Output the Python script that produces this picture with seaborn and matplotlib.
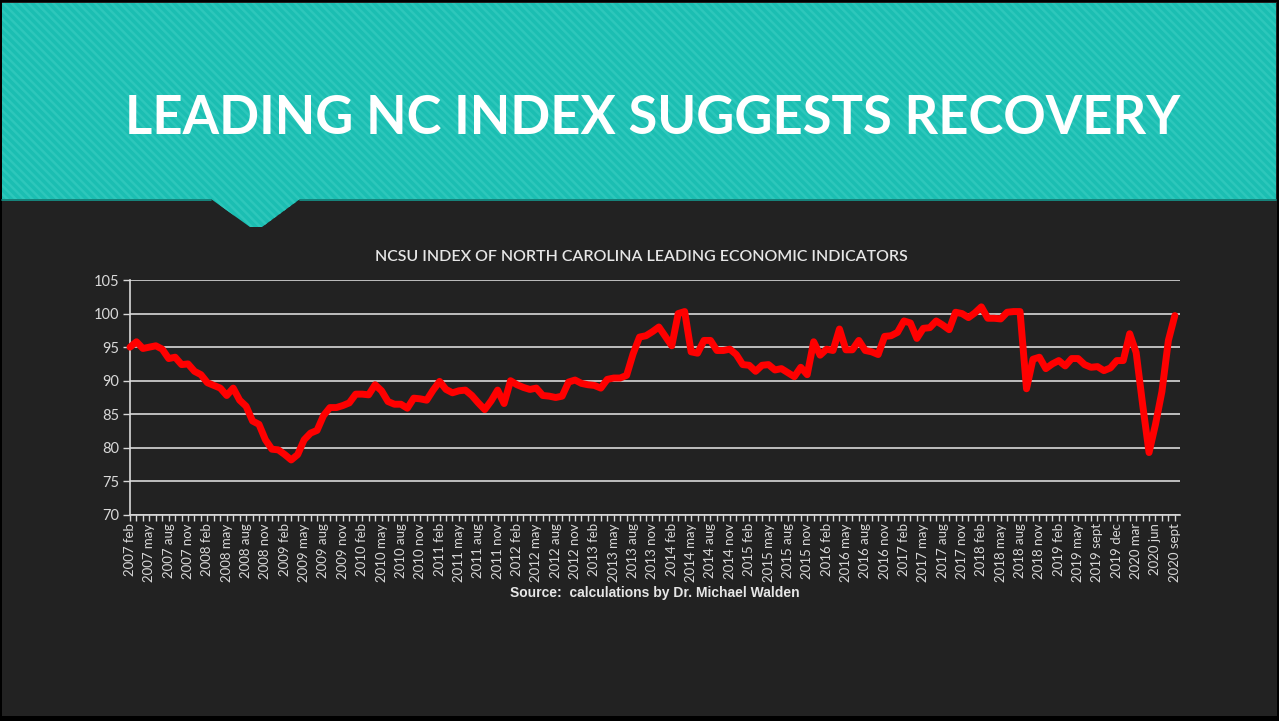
import matplotlib
matplotlib.use('Agg')
import matplotlib.pyplot as plt
import seaborn as sns
import pandas as pd
from matplotlib.patches import Polygon, Rectangle

# Тексты слайда
TITLE = 'LEADING NC INDEX SUGGESTS RECOVERY'
CHART_TITLE = 'NCSU INDEX OF NORTH CAROLINA LEADING ECONOMIC INDICATORS'
SOURCE = 'Source:  calculations by Dr. Michael Walden'

# Категории: месяцы с 2007 feb по 2020 sept (2019 aug в ряду нет)
YEARS = list(range(2007, 2021))
MONTH_NAMES = ['jan', 'feb', 'mar', 'apr', 'may', 'jun',
               'jul', 'aug', 'sept', 'oct', 'nov', 'dec']
FIRST_PERIOD = '2007 feb'
LAST_PERIOD = '2020 sept'
MISSING_PERIODS = ['2019 aug']

# Значения индекса (по месяцам)
INDEX_VALUES = [
    95.0, 95.8, 94.8, 95.0, 95.2, 94.7, 93.3, 93.5, 92.4, 92.5,
    91.4, 90.9, 89.7, 89.3, 88.9, 87.8, 88.9, 87.1, 86.2, 84.0,
    83.5, 81.2, 79.8, 79.7, 79.0, 78.2, 79.0, 81.2, 82.2, 82.6,
    84.8, 86.0, 86.0, 86.3, 86.7, 88.0, 88.0, 87.9, 89.4, 88.5,
    86.9, 86.5, 86.5, 85.9, 87.4, 87.3, 87.1, 88.6, 89.9, 88.7,
    88.2, 88.5, 88.6, 87.8, 86.7, 85.7, 87.0, 88.6, 86.6, 90.0,
    89.4, 89.0, 88.7, 88.9, 87.8, 87.7, 87.5, 87.7, 89.8, 90.1,
    89.6, 89.4, 89.3, 88.9, 90.2, 90.4, 90.4, 90.8, 94.0, 96.5,
    96.7, 97.3, 98.0, 96.6, 95.2, 100.0, 100.3, 94.3, 94.1, 96.0,
    96.0, 94.5, 94.5, 94.7, 93.9, 92.4, 92.3, 91.4, 92.3, 92.4,
    91.6, 91.8, 91.2, 90.6, 92.0, 90.9, 95.8, 93.8, 94.7, 94.5,
    97.7, 94.6, 94.6, 96.0, 94.5, 94.3, 93.9, 96.6, 96.7, 97.2,
    98.9, 98.6, 96.3, 97.8, 97.9, 98.9, 98.3, 97.6, 100.2, 100.0,
    99.4, 100.1, 101.0, 99.3, 99.3, 99.2, 100.2, 100.3, 100.3, 88.8,
    93.2, 93.5, 91.8, 92.5, 93.0, 92.2, 93.3, 93.3, 92.4, 92.0,
    92.1, 91.5, 91.9, 93.0, 93.0, 97.0, 94.2, 86.5, 79.3, 83.5,
    88.4, 96.0, 99.7,
]
Y_TICKS = [70, 75, 80, 85, 90, 95, 100, 105]

# Цвета
BG = '#222222'
TEAL = '#1BBEB2'
TEAL_STRIPE = '#2DC7BB'
LINE_RED = '#FF0000'
GRID = '#D9D9D9'
TEXT = '#E6E6E6'

W, H = 1279, 721


def build_periods():
    periods = [f'{y} {m}' for y in YEARS for m in MONTH_NAMES]
    periods = periods[periods.index(FIRST_PERIOD):periods.index(LAST_PERIOD) + 1]
    return [p for p in periods if p not in MISSING_PERIODS]


periods = build_periods()
df = pd.DataFrame({'period': periods, 'value': INDEX_VALUES})
df['pos'] = df.index

sns.set_style('dark', {'axes.facecolor': BG, 'figure.facecolor': '#000000'})
plt.rcParams['font.family'] = ['Lato', 'DejaVu Sans']
plt.rcParams['hatch.linewidth'] = 1.8

fig = plt.figure(figsize=(W / 100, H / 100), dpi=100)

# Фон слайда: тёмная область и бирюзовая шапка с "язычком"
bg = fig.add_axes([0, 0, 1, 1], zorder=-10)
bg.set_xlim(0, W)
bg.set_ylim(H, 0)
bg.axis('off')
bg.add_patch(Rectangle((2, 2), W - 4, H - 7, facecolor=BG, edgecolor='none'))
header = Polygon([(2, 3), (W - 3, 3), (W - 3, 199), (300, 199), (262, 227),
                  (250, 227), (211, 199), (2, 199)],
                 closed=True, facecolor=TEAL, edgecolor=TEAL_STRIPE,
                 hatch='\\\\\\\\', linewidth=0)
bg.add_patch(header)
bg.plot([2, 211], [199.5, 199.5], color='#14978D', lw=1.2)
bg.plot([300, W - 3], [199.5, 199.5], color='#14978D', lw=1.2)

fig.text(653 / W, 1 - 134 / H, TITLE, color='white', fontsize=37.8,
         fontweight='bold', ha='center', va='baseline')
fig.text(641 / W, 1 - 261 / H, CHART_TITLE, color=TEXT, fontsize=11.5,
         fontweight='semibold', ha='center', va='baseline')
fig.text(655 / W, 1 - 597 / H, SOURCE, color=TEXT, fontsize=10,
         ha='center', va='baseline', fontweight='bold',
         family=['Liberation Sans', 'DejaVu Sans'])

# Сам график
ax = fig.add_axes([130 / W, 1 - 515 / H, (1180 - 130) / W, (515 - 280) / H])
ax.set_facecolor(BG)
sns.lineplot(data=df, x='pos', y='value', color=LINE_RED, lw=5,
             sort=False, ax=ax, clip_on=False, zorder=5)

ax.set_ylim(70, 105)
ax.set_yticks(Y_TICKS)
ax.set_xlim(0, len(periods) - 1 + 0.8)
major = list(range(0, len(periods), 3))
ax.set_xticks(major)
ax.set_xticklabels([periods[i] for i in major], rotation=90)
ax.set_xticks(range(len(periods)), minor=True)

ax.grid(axis='y', color=GRID, lw=1.2)
ax.grid(axis='x', visible=False)
for side in ['top', 'right']:
    ax.spines[side].set_visible(False)
for side in ['left', 'bottom']:
    ax.spines[side].set_visible(True)
    ax.spines[side].set_color(GRID)
    ax.spines[side].set_linewidth(1.2)

ax.tick_params(axis='y', colors=GRID, labelsize=10.5, length=5, width=1,
               left=True, pad=3)
ax.tick_params(axis='x', which='both', colors=GRID, labelsize=9.5,
               length=4, width=1, bottom=True, pad=2)
ax.set_xlabel('')
ax.set_ylabel('')

fig.savefig('out.png', dpi=100, facecolor=fig.get_facecolor())
